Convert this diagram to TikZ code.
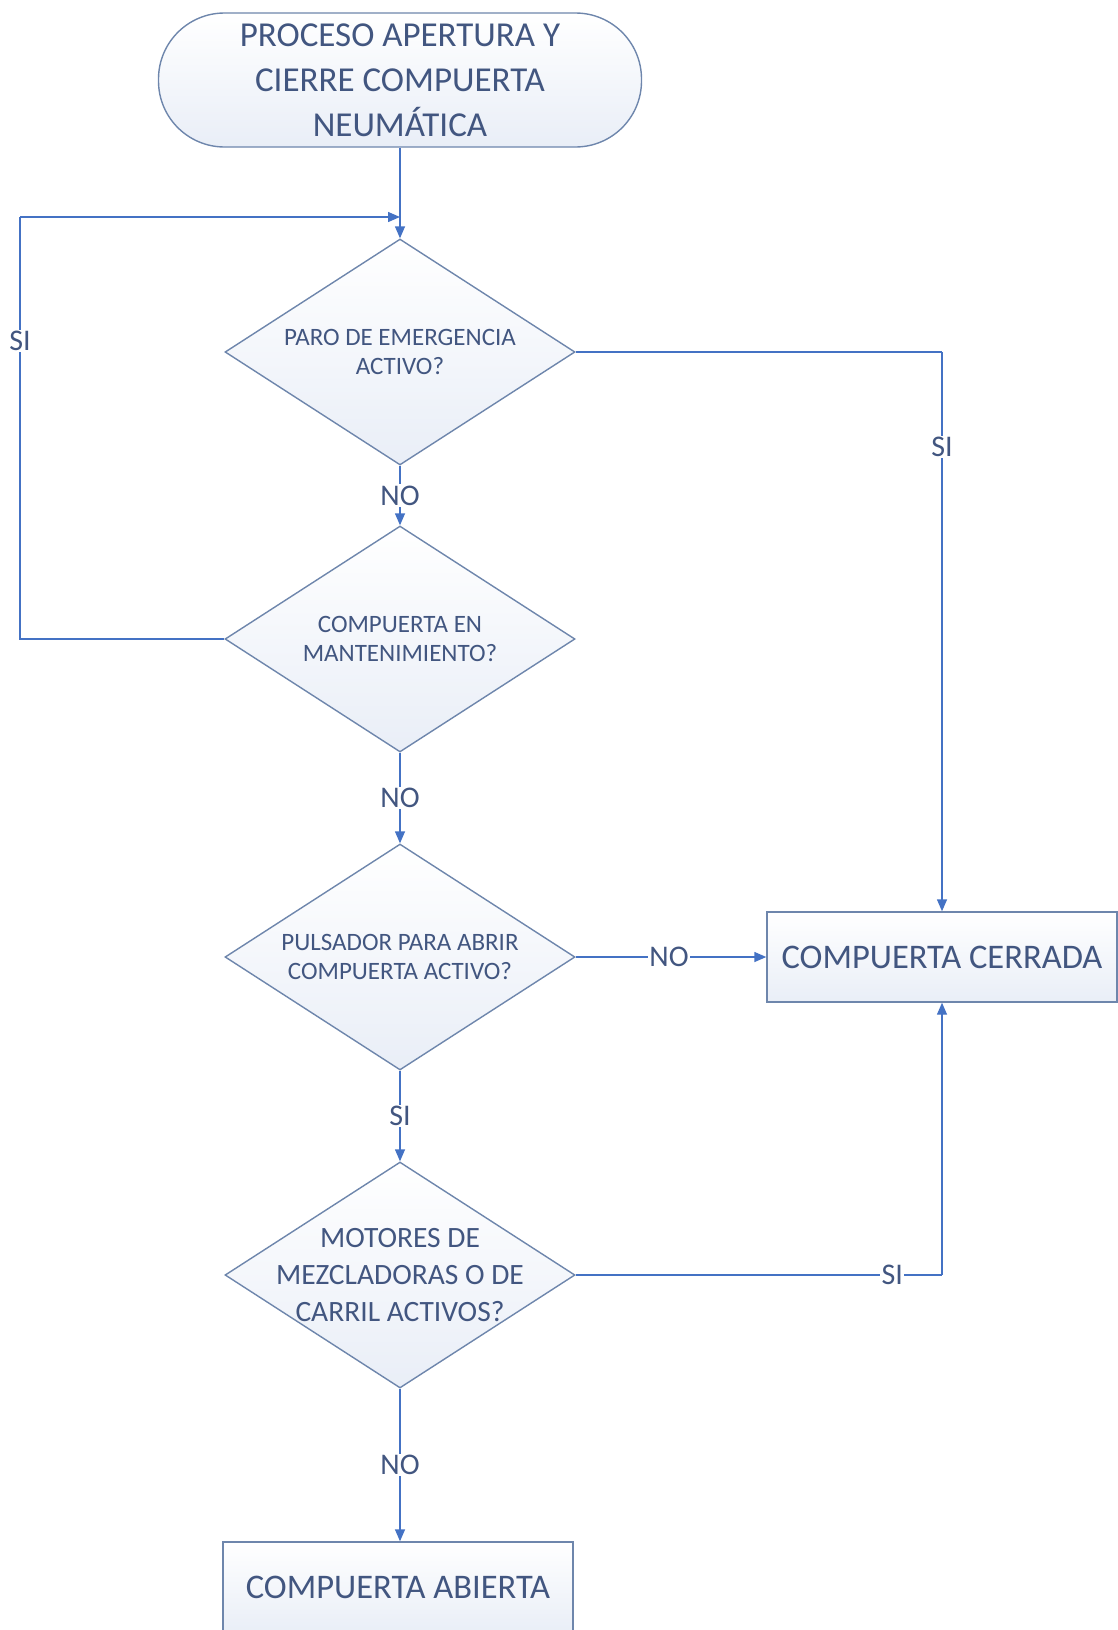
\documentclass[tikz,border=0pt]{standalone}
\usepackage{fontspec}
\setmainfont{Carlito}
\usetikzlibrary{shapes.geometric,arrows.meta,positioning}

\definecolor{txt}{RGB}{66,86,128}
\definecolor{edge}{RGB}{110,134,172}
\definecolor{link}{RGB}{68,114,196}
\definecolor{tint}{RGB}{233,238,247}

\tikzset{
  shapebase/.style={draw=edge, line width=1.4pt, text=txt, top color=white, bottom color=tint, align=center},
  terminal/.style={shapebase, rounded corners=66pt, minimum width=483pt, minimum height=134pt,
    font=\fontsize{35}{45}\selectfont},
  % the diamond keeps a fixed size; its text is set as a centred label
  decision/.style={shapebase, diamond, minimum width=350pt, minimum height=226pt, inner sep=0pt},
  dtext/.style={text=txt, align=center, inner sep=0pt, font=\fontsize{25}{29}\selectfont},
  bigdtext/.style={dtext, font=\fontsize{29.5}{37}\selectfont},
  stepbox/.style={shapebase, rectangle, minimum width=350pt, minimum height=90pt, inner sep=0pt,
    font=\fontsize{34.5}{40}\selectfont},
  flow/.style={draw=link, line width=1.4pt, -{Triangle[length=12pt,width=10pt]}},
  plain/.style={draw=link, line width=1.4pt},
  tag/.style={fill=white, text=txt, inner sep=1.5pt, font=\fontsize{30}{34}\selectfont}
}

\begin{document}
\begin{tikzpicture}[x=1pt,y=-1pt]
  \useasboundingbox (0,0) rectangle (1118,1630);

  % process shapes
  \node[terminal] (start) at (400,80) {PROCESO APERTURA Y\\CIERRE COMPUERTA\\NEUMÁTICA};
  \node[decision, label={[dtext]center:PARO DE EMERGENCIA\\ACTIVO?}] (d1) at (400,352) {};
  \node[decision, label={[dtext]center:COMPUERTA EN\\MANTENIMIENTO?}] (d2) at (400,639) {};
  \node[decision, label={[dtext]center:PULSADOR PARA ABRIR\\COMPUERTA ACTIVO?}] (d3) at (400,957) {};
  \node[decision, label={[bigdtext]center:MOTORES DE\\MEZCLADORAS O DE\\CARRIL ACTIVOS?}] (d4) at (400,1275) {};
  \node[stepbox] (closed) at (942,957) {COMPUERTA CERRADA};
  \node[stepbox] (open) at (398,1587) {COMPUERTA ABIERTA};

  % routing points
  \coordinate (loopA) at (20,639);
  \coordinate (loopB) at (20,217);
  \coordinate (loopEnd) at (400,217);
  \coordinate (rightA) at (d1.east -| closed.north);
  \coordinate (rightB) at (d4.east -| closed.south);

  % main sequence
  \draw[flow] (start.south) -- (d1.north);
  \draw[flow] (d1.south) -- node[tag] {NO} (d2.north);
  \draw[flow] (d2.south) -- node[tag] {NO} (d3.north);
  \draw[flow] (d3.south) -- node[tag] {SI} (d4.north);
  \draw[flow] (d4.south) -- node[tag] {NO} (d4.south |- open.north);

  % branches to the closed gate
  \draw[plain] (d1.east) -- (rightA);
  \draw[flow] (rightA) -- node[tag, pos=0.17] {SI} (closed.north);
  \draw[flow] (d3.east) -- node[tag, pos=0.49] {NO} (closed.west);
  \draw[plain] (d4.east) -- node[tag, pos=0.864] {SI} (rightB);
  \draw[flow] (rightB) -- (closed.south);

  % maintenance loop back to the emergency check
  \draw[plain] (d2.west) -- (loopA) -- node[tag, pos=0.706] {SI} (loopB);
  \draw[flow] (loopB) -- (loopEnd);
\end{tikzpicture}
\end{document}
